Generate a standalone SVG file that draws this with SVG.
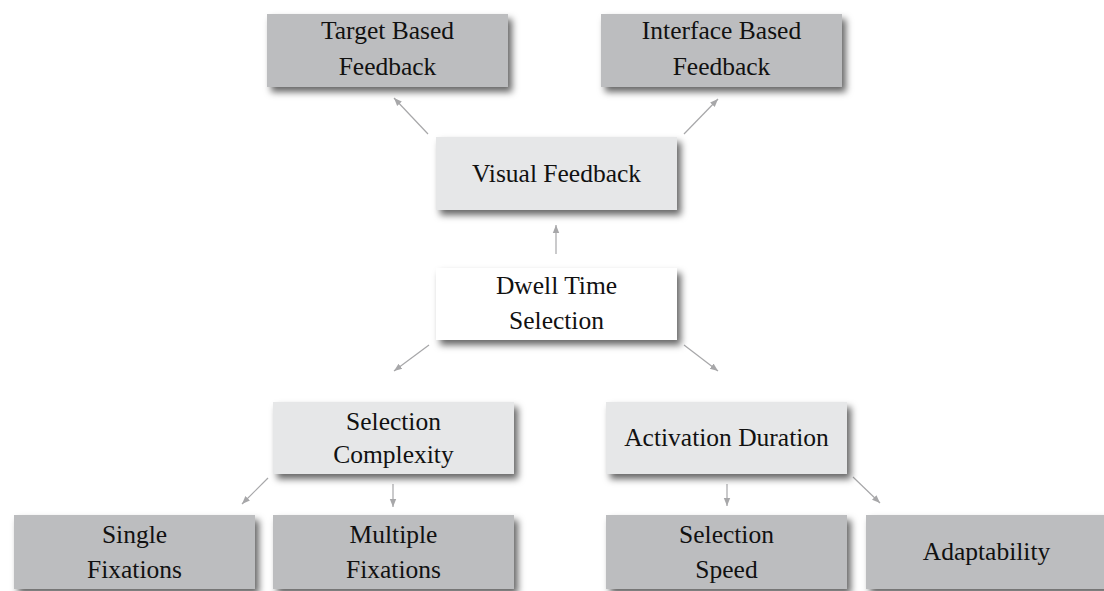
<svg xmlns="http://www.w3.org/2000/svg" width="1104" height="591" viewBox="0 0 1104 591">
  <style>
    .box { stroke: none; filter: url(#shadow); }
    .dark { fill: #bcbdbf; }
    .light { fill: #e6e7e8; }
    .white { fill: #ffffff; }
    .label { font-family: "Liberation Serif", "Times New Roman", serif; font-size: 25.5px; fill: #111111; text-anchor: middle; }
    .conn { stroke: #a7a7a9; stroke-width: 1.2; fill: none; marker-end: url(#arrow); }
  </style>
  <defs>
    <filter id="shadow" x="-10%" y="-20%" width="125%" height="155%">
      <feDropShadow dx="4" dy="5" stdDeviation="3.5" flood-color="#000000" flood-opacity="0.6"/>
    </filter>
    <marker id="arrow" markerUnits="userSpaceOnUse" markerWidth="10" markerHeight="10" refX="8" refY="4" orient="auto">
      <path d="M0,0.8 L8,4 L0,7.2 Z" fill="#a7a7a9"/>
    </marker>
  </defs>

  <rect width="1104" height="591" fill="#ffffff"/>

  <!-- connectors -->
  <g id="connectors">
    <line class="conn" x1="556" y1="254" x2="556" y2="225"/>
    <line class="conn" x1="428" y1="134" x2="394" y2="98"/>
    <line class="conn" x1="684" y1="134" x2="718" y2="99"/>
    <line class="conn" x1="429" y1="345" x2="394" y2="371"/>
    <line class="conn" x1="684" y1="345" x2="718" y2="371"/>
    <line class="conn" x1="268" y1="478" x2="242" y2="504"/>
    <line class="conn" x1="393" y1="484" x2="393" y2="507"/>
    <line class="conn" x1="727" y1="484" x2="727" y2="506"/>
    <line class="conn" x1="853" y1="477" x2="880" y2="503"/>
  </g>

  <!-- top row -->
  <g id="target-based-feedback">
    <rect class="box dark" x="267" y="14" width="241" height="73"/>
    <text class="label" x="387.5" y="39">Target Based</text>
    <text class="label" x="387.5" y="75">Feedback</text>
  </g>
  <g id="interface-based-feedback">
    <rect class="box dark" x="601" y="14" width="241" height="73"/>
    <text class="label" x="721.5" y="39">Interface Based</text>
    <text class="label" x="721.5" y="75">Feedback</text>
  </g>

  <!-- feedback level -->
  <g id="visual-feedback">
    <rect class="box light" x="436" y="137" width="241" height="73"/>
    <text class="label" x="556.5" y="182">Visual Feedback</text>
  </g>

  <!-- root -->
  <g id="dwell-time-selection">
    <rect class="box white" x="436" y="268" width="241" height="72"/>
    <text class="label" x="556.5" y="294">Dwell Time</text>
    <text class="label" x="556.5" y="329">Selection</text>
  </g>

  <!-- middle row -->
  <g id="selection-complexity">
    <rect class="box light" x="273" y="402" width="241" height="72"/>
    <text class="label" x="393.5" y="430">Selection</text>
    <text class="label" x="393.5" y="463">Complexity</text>
  </g>
  <g id="activation-duration">
    <rect class="box light" x="606" y="402" width="241" height="72"/>
    <text class="label" x="726.5" y="446">Activation Duration</text>
  </g>

  <!-- bottom row -->
  <g id="single-fixations">
    <rect class="box dark" x="14" y="515" width="241" height="74"/>
    <text class="label" x="134.5" y="543">Single</text>
    <text class="label" x="134.5" y="578">Fixations</text>
  </g>
  <g id="multiple-fixations">
    <rect class="box dark" x="273" y="515" width="241" height="74"/>
    <text class="label" x="393.5" y="543">Multiple</text>
    <text class="label" x="393.5" y="578">Fixations</text>
  </g>
  <g id="selection-speed">
    <rect class="box dark" x="606" y="515" width="241" height="74"/>
    <text class="label" x="726.5" y="543">Selection</text>
    <text class="label" x="726.5" y="578">Speed</text>
  </g>
  <g id="adaptability">
    <rect class="box dark" x="866" y="515" width="241" height="74"/>
    <text class="label" x="986.5" y="560">Adaptability</text>
  </g>
</svg>
